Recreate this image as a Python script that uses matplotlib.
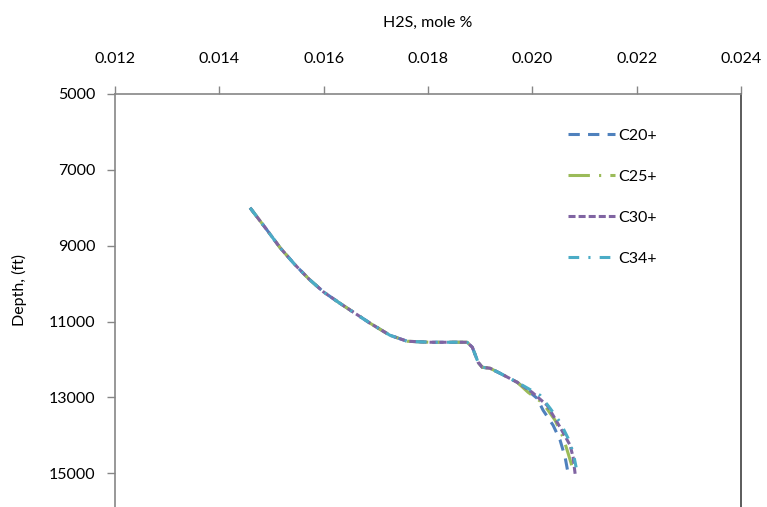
import numpy as np
from matplotlib import pyplot as plt

plt.rcParams['font.family'] = ['Lato', 'DejaVu Sans']

# common upper section of the H2S profile (same for every plus fraction)
shared_h2s = [0.01459, 0.01490, 0.01517, 0.01545, 0.01572, 0.01600, 0.01631, 0.01689,
              0.01727, 0.01760, 0.01804, 0.01862, 0.01875, 0.01885, 0.01896, 0.01904,
              0.01919, 0.01938, 0.01971]
shared_depth = [8000, 8560, 9060, 9500, 9880, 10220, 10515, 11042,
                11359, 11517, 11544, 11544, 11544, 11675, 12071, 12203,
                12229, 12361, 12599]

# lower section, where the plus fractions split apart
c20_h2s = [0.019862, 0.020092, 0.020207, 0.020399, 0.020533, 0.020629, 0.020686]
c20_depth = [12757, 13021, 13338, 13733, 14129, 14578, 15000]
c25_h2s = [0.019919, 0.020207, 0.020437, 0.020590, 0.020686, 0.020744, 0.020780]
c25_depth = [12863, 13153, 13602, 14050, 14472, 14736, 14950]
c30_h2s = [0.019996, 0.020284, 0.020533, 0.020725, 0.020782, 0.020821]
c30_depth = [12863, 13206, 13786, 14261, 14578, 15020]
c34_h2s = [0.020149, 0.020341, 0.020533, 0.020686, 0.020782, 0.020840]
c34_depth = [12942, 13285, 13654, 14076, 14446, 14842]

x_ticks = [0.012, 0.014, 0.016, 0.018, 0.020, 0.022, 0.024]
y_ticks = [5000, 7000, 9000, 11000, 13000, 15000]

series = [
    ('C20+', c20_h2s, c20_depth, '#4F81BD', (0, (3.7, 2.7))),
    ('C25+', c25_h2s, c25_depth, '#9BBB59', (0, (7, 3, 0.7, 3))),
    ('C30+', c30_h2s, c30_depth, '#8064A2', (0, (2.3, 1))),
    ('C34+', c34_h2s, c34_depth, '#4BACC6', (0, (3.5, 3, 0.7, 3))),
]

fig = plt.figure(figsize=(7.67, 5.07), dpi=100)
ax = fig.add_axes([0.1499, -0.0085, 0.8162, 0.8231])

for name, xs, ys, col, ls in series:
    ax.plot(shared_h2s + xs, shared_depth + ys, color=col, linestyle=ls, lw=2.2, label=name)

ax.set_xlim(0.012, 0.024)
ax.set_ylim(16000, 5000)
ax.xaxis.tick_top()
ax.xaxis.set_label_position('top')
ax.set_xticks(x_ticks)
ax.set_xticklabels(['%.3f' % v for v in x_ticks])
ax.set_yticks(y_ticks)
ax.set_yticklabels([str(v) for v in y_ticks])
ax.tick_params(axis='both', labelsize=11.5, color='#868686', length=6, width=1)
ax.tick_params(axis='x', pad=14)
ax.tick_params(axis='y', pad=8)

ax.set_xlabel('H2S, mole %', fontsize=11.5, labelpad=18)
ax.set_ylabel('Depth, (ft)', fontsize=11.5)
ax.yaxis.set_label_coords(-0.14, 0.53)

for s in ['top', 'left']:
    ax.spines[s].set_color('#868686')
    ax.spines[s].set_linewidth(1.2)
ax.spines['right'].set_color('#404040')
ax.spines['right'].set_linewidth(1.2)
ax.spines['bottom'].set_visible(False)

ax.legend(loc='upper left', bbox_to_anchor=(0.70, 0.952), frameon=False, fontsize=11.5,
          handlelength=3.0, handletextpad=0.15, labelspacing=1.68)

plt.savefig('out.png', dpi=100)
